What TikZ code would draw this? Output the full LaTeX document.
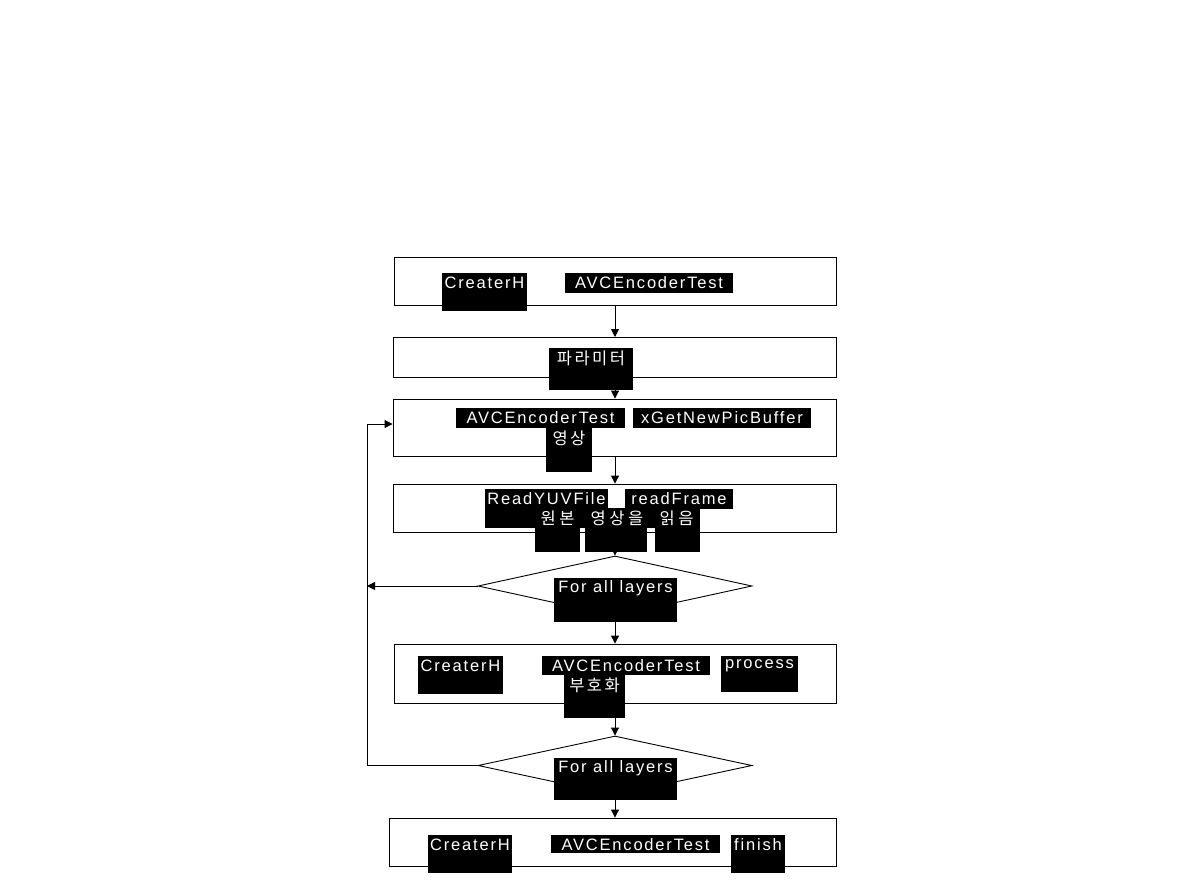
\documentclass[tikz,border=0pt]{standalone}
\usepackage{fontspec}
\setmainfont[LetterSpace=11]{Liberation Sans}
\newfontfamily\kr[LetterSpace=15]{Noto Sans CJK KR}
\newfontfamily\krw[LetterSpace=22,WordSpace=2.2]{Noto Sans CJK KR}
\usetikzlibrary{arrows.meta,shapes.geometric}
\tikzset{
  box/.style={draw=black, line width=0.9pt, rectangle, inner sep=0pt},
  dia/.style={draw=black, line width=0.9pt, diamond, inner sep=0pt},
  arr/.style={line width=0.9pt, -{Triangle[length=8pt,width=8pt]}},
  ln/.style={line width=0.9pt},
  blk/.style={fill=black, draw=none, inner sep=0pt, rectangle},
  wt/.style={text=white, inner sep=0pt, font=\fontsize{16.5}{19}\selectfont},
}
\newcommand\bbx[6]{%
  \pgfmathsetmacro\bw{#4-#2}\pgfmathsetmacro\bh{#5-#3}%
  \pgfmathsetmacro\bcx{(#2+#4)/2}\pgfmathsetmacro\bty{#3+10}%
  \node[blk, minimum width=\bw pt, minimum height=\bh pt, anchor=north west] (#1) at (#2,#3) {};
  \node[wt] (#1t) at (\bcx,\bty) {#6};}
\begin{document}
\begin{tikzpicture}[x=1pt,y=-1pt]
\useasboundingbox (0,0) rectangle (1190,890);
\fill[white] (0,0) rectangle (1190,890);
% boxes
\node[box, minimum width=442pt, minimum height=48pt] (b1) at (615,281) {};
\node[box, minimum width=443pt, minimum height=40pt] (b2) at (614.5,357) {};
\node[box, minimum width=443pt, minimum height=57pt] (b3) at (614.5,427.5) {};
\node[box, minimum width=443pt, minimum height=48pt] (b4) at (614.5,508) {};
\node[dia, minimum width=274pt, minimum height=60pt] (d1) at (615,586) {};
\node[box, minimum width=442pt, minimum height=59pt] (b5) at (615,673.5) {};
\node[dia, minimum width=274pt, minimum height=59pt] (d2) at (615,765.5) {};
\node[box, minimum width=447pt, minimum height=48pt] (b6) at (612.5,842) {};
\coordinate (exit) at (367,586);
\coordinate (loopc) at (367,424);
% connectors
\draw[arr] (615,305) -- (615,337);
\draw[arr] (b2.south -| 615,0) -- (b3.north -| 615,0);
\draw[arr] (b3.south -| 615,0) -- (b4.north -| 615,0);
\draw[arr] (b4.south -| 615,0) -- (d1.north);
\draw[arr] (d1.west) -- (exit);
\draw[arr] (d1.south) -- (b5.north -| d1.south);
\draw[arr] (b5.south -| d2.north) -- (d2.north);
\draw[arr] (d2.south) -- (b6.north -| d2.south);
\draw[arr] (d2.west) -| (loopc) -- (loopc -| b3.west);
% black text blocks
\bbx{t1a}{442}{273}{527}{311}{CreaterH}
\bbx{t1b}{565}{273}{733}{293}{AVCEncoderTest}
\bbx{t2}{549}{348}{633}{390}{\kr 파라미터}
\bbx{t3a}{456}{408}{625}{428}{AVCEncoderTest}
\bbx{t3b}{633}{408}{811}{428}{xGetNewPicBuffer}
\bbx{t3c}{546}{428}{592}{472}{\kr 영상}
\bbx{t4a}{485}{489}{608}{509}{ReadYUVFile}
\bbx{t4b}{625}{489}{733}{509}{readFrame}
\node[blk, minimum width=215pt, minimum height=20pt, anchor=north west] (t4c) at (485,508) {};
\node[blk, minimum width=45pt, minimum height=25pt, anchor=north west] (t4d) at (535,527) {};
\node[blk, minimum width=62pt, minimum height=25pt, anchor=north west] (t4e) at (585,527) {};
\node[blk, minimum width=45pt, minimum height=25pt, anchor=north west] (t4f) at (655,527) {};
\node[wt] (t4ct) at (617,518) {\krw 원본 영상을 읽음};
\bbx{t5}{554}{578}{677}{622}{For all layers}
\bbx{t6a}{418}{656}{503}{694}{CreaterH}
\bbx{t6b}{542}{656}{710}{675}{AVCEncoderTest}
\bbx{t6c}{721}{656}{798}{692}{process}
\bbx{t6d}{564}{675}{625}{718}{\kr 부호화}
\bbx{t7}{554}{758}{677}{800}{For all layers}
\bbx{t8a}{428}{835}{512}{873}{CreaterH}
\bbx{t8b}{551}{835}{720}{853}{AVCEncoderTest}
\bbx{t8c}{731}{835}{785}{873}{finish}
\end{tikzpicture}
\end{document}
